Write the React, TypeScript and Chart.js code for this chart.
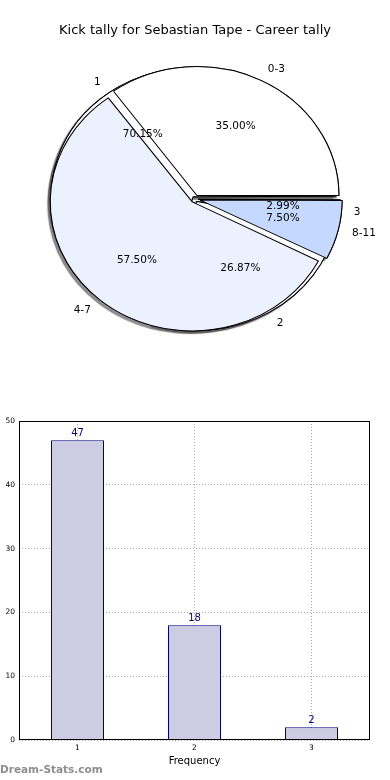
import React, { useEffect, useRef } from 'react';
import { Chart, registerables } from 'chart.js';

Chart.register(...registerables);

// ---- data ----
const chartTitle = 'Kick tally for Sebastian Tape - Career tally';
const groupLabels = ['0-3', '4-7', '8-11'];
const groupShares = [35.0, 57.5, 7.5];
const groupColors = ['#ffffff', '#ebf1ff', '#c5d8ff'];
const groupExplode = [16, 16, 20];
const kickLabels = ['1', '2', '3'];
const kickCounts = [47, 18, 2];
const kickColors = ['#ffffff', '#ffffff', '#ffffff'];
const kickExplode = [12, 12, 12];
const yMin = 0;
const yMax = 50;
const yStep = 10;
const xAxisTitle = 'Frequency';
const watermark = 'Dream-Stats.com';

// ---- geometry / style ----
const FONT = '"DejaVu Sans", "Liberation Sans", sans-serif';
const R = 135;
const PIE_W = 390;
const PIE_H = 396;
const SX = 142 / R;
const SY = 129 / R;

const rev = <T,>(a: T[]) => a.slice().reverse();

function fixRadii(chart: any) {
  const meta = chart.getDatasetMeta(0);
  const ds: any = chart.data.datasets[0];
  meta.data.forEach((arc: any, i: number) => {
    const off = (ds.offset[i] || 0) / 4;
    const circ = arc.endAngle - arc.startAngle;
    const fix = 1 - Math.sin(Math.min(Math.PI, circ));
    arc.outerRadius = R - off * fix;
  });
}

function applyEllipse(ctx: CanvasRenderingContext2D, chart: any) {
  const a = chart.getDatasetMeta(0).data[0];
  ctx.translate(a.x, a.y);
  ctx.scale(SX, SY);
  ctx.translate(-a.x, -a.y);
}

function drawPieLabels(ctx: CanvasRenderingContext2D, chart: any) {
  const meta = chart.getDatasetMeta(0);
  const ds: any = chart.data.datasets[0];
  const labels: string[] = chart.data.labels;
  const total = ds.data.reduce((a: number, b: number) => a + b, 0);
  ctx.save();
  ctx.fillStyle = '#000';
  ctx.font = `10.5px ${FONT}`;
  ctx.textBaseline = 'middle';
  meta.data.forEach((arc: any, i: number) => {
    const mid = (arc.startAngle + arc.endAngle) / 2;
    const off = (ds.offset[i] || 0) / 4;
    const c = Math.cos(mid);
    const s = Math.sin(mid);
    const map = (d: number) => [arc.x + (c * off + d * R * c) * SX, arc.y + (s * off + d * R * s) * SY];
    const pct = ((ds.data[i] / total) * 100).toFixed(2) + '%';
    ctx.textAlign = 'center';
    const p = map(0.6);
    ctx.fillText(pct, p[0], p[1]);
    ctx.textAlign = c >= 0 ? 'left' : 'right';
    const q = map(1.1);
    ctx.fillText(labels[i], q[0], q[1]);
  });
  ctx.restore();
}

function pieConfig(labels: string[], values: number[], colors: string[], explode: number[], plugin: any): any {
  return {
    type: 'pie',
    data: {
      labels: rev(labels),
      datasets: [
        {
          data: rev(values),
          backgroundColor: rev(colors),
          borderColor: '#000000',
          borderWidth: 1,
          offset: rev(explode),
          rotation: 90,
          radius: R,
        },
      ],
    },
    options: {
      responsive: false,
      animation: false,
      events: [],
      rotation: 90,
      radius: R,
      layout: { padding: 0 },
      plugins: { legend: { display: false }, tooltip: { enabled: false }, title: { display: false } },
    },
    plugins: [plugin],
  };
}

export default function App() {
  const kickPieRef = useRef<HTMLCanvasElement | null>(null);
  const groupPieRef = useRef<HTMLCanvasElement | null>(null);
  const barRef = useRef<HTMLCanvasElement | null>(null);

  useEffect(() => {
    document.body.style.margin = '0';
    let kickChart: any = null;
    let groupChart: any = null;

    // bottom pie: draws shadows of both pies, then its own wedges
    const kickPlugin = {
      id: 'kickPieDecor',
      beforeDatasetsDraw(chart: any) {
        const ctx = chart.ctx;
        fixRadii(chart);
        if (groupChart) fixRadii(groupChart);
        ctx.save();
        applyEllipse(ctx, chart);
        ctx.save();
        ctx.shadowColor = 'rgba(70,70,70,0.6)';
        ctx.shadowOffsetX = -2.5;
        ctx.shadowOffsetY = 2.5;
        ctx.shadowBlur = 1;
        chart.getDatasetMeta(0).data.forEach((arc: any) => arc.draw(ctx));
        if (groupChart) groupChart.getDatasetMeta(0).data.forEach((arc: any) => arc.draw(ctx));
        ctx.restore();
      },
      afterDatasetsDraw(chart: any) {
        chart.ctx.restore();
      },
    };
    // top pie: its wedges + all texts
    const groupPlugin = {
      id: 'groupPieDecor',
      beforeDatasetsDraw(chart: any) {
        fixRadii(chart);
        chart.ctx.save();
        applyEllipse(chart.ctx, chart);
      },
      afterDatasetsDraw(chart: any) {
        chart.ctx.restore();
        drawPieLabels(chart.ctx, chart);
        if (kickChart) drawPieLabels(chart.ctx, kickChart);
      },
    };

    kickChart = new Chart(kickPieRef.current as HTMLCanvasElement, pieConfig(kickLabels, kickCounts, kickColors, kickExplode, kickPlugin));
    groupChart = new Chart(groupPieRef.current as HTMLCanvasElement, pieConfig(groupLabels, groupShares, groupColors, groupExplode, groupPlugin));
    kickChart.draw();

    const barPlugin = {
      id: 'barDecor',
      afterDatasetsDraw(chart: any) {
        const ctx = chart.ctx;
        const meta = chart.getDatasetMeta(0);
        const data = chart.data.datasets[0].data;
        ctx.save();
        ctx.fillStyle = '#000080';
        ctx.font = `10px ${FONT}`;
        ctx.textAlign = 'center';
        ctx.textBaseline = 'bottom';
        meta.data.forEach((bar: any, i: number) => {
          ctx.fillText(String(data[i]), bar.x, bar.y - 2);
        });
        ctx.restore();
      },
      afterDraw(chart: any) {
        const ctx = chart.ctx;
        const a = chart.chartArea;
        ctx.save();
        ctx.strokeStyle = '#000';
        ctx.lineWidth = 1;
        const l = Math.round(a.left) + 0.5;
        const t = Math.round(a.top) + 0.5;
        const r = Math.round(a.right) - 0.5;
        const b = Math.round(a.bottom) - 0.5;
        ctx.strokeRect(l, t, r - l, b - t);
        ctx.fillStyle = '#8e8e8e';
        ctx.font = `bold 10.5px ${FONT}`;
        ctx.textAlign = 'left';
        ctx.textBaseline = 'middle';
        ctx.fillText(watermark, 0, 370);
        ctx.restore();
      },
    };

    const barChart = new Chart(barRef.current as HTMLCanvasElement, {
      type: 'bar',
      data: {
        labels: kickLabels,
        datasets: [
          {
            data: kickCounts,
            backgroundColor: '#ccccE3',
            borderColor: '#000080',
            borderWidth: 1,
            barPercentage: 53 / 117,
            categoryPercentage: 1,
          },
        ],
      },
      options: {
        responsive: false,
        animation: false,
        events: [],
        layout: { padding: { top: 21, right: 20, left: 0, bottom: 0 } },
        plugins: { legend: { display: false }, tooltip: { enabled: false } },
        scales: {
          x: {
            grid: { color: '#a8a8a8', lineWidth: 1, drawTicks: false, offset: false },
            border: { display: false, dash: [1, 2] },
            ticks: { font: { family: FONT, size: 7.5 }, color: '#000', padding: 4 },
            title: {
              display: true,
              text: xAxisTitle,
              font: { family: FONT, size: 10 },
              color: '#000',
              padding: { top: 0, bottom: 13 },
            },
            afterFit(s: any) {
              s.height = 40;
            },
          },
          y: {
            min: yMin,
            max: yMax,
            ticks: { stepSize: yStep, font: { family: FONT, size: 7.5 }, color: '#000', padding: 4 },
            grid: { color: '#a8a8a8', lineWidth: 1, drawTicks: false },
            border: { display: false, dash: [1, 2] },
            afterFit(s: any) {
              s.width = 19;
            },
          },
        },
      },
      plugins: [barPlugin],
    } as any);

    return () => {
      groupChart.destroy();
      kickChart.destroy();
      barChart.destroy();
    };
  }, []);

  const pieStyle: React.CSSProperties = {
    position: 'absolute',
    left: 0,
    top: 1,
    width: PIE_W,
    height: PIE_H,
  };

  return (
    <div style={{ position: 'relative', width: 390, height: 780, overflow: 'hidden', background: '#fff' }}>
      <canvas ref={kickPieRef} width={PIE_W} height={PIE_H} style={pieStyle} />
      <canvas ref={groupPieRef} width={PIE_W} height={PIE_H} style={pieStyle} />
      <canvas ref={barRef} width={390} height={380} style={{ position: 'absolute', left: 0, top: 400, width: 390, height: 380 }} />
      <div
        style={{
          position: 'absolute',
          top: 22,
          left: 0,
          width: 390,
          textAlign: 'center',
          fontFamily: FONT,
          fontSize: 13,
          lineHeight: '16px',
          color: '#000',
        }}
      >
        {chartTitle}
      </div>
    </div>
  );
}
